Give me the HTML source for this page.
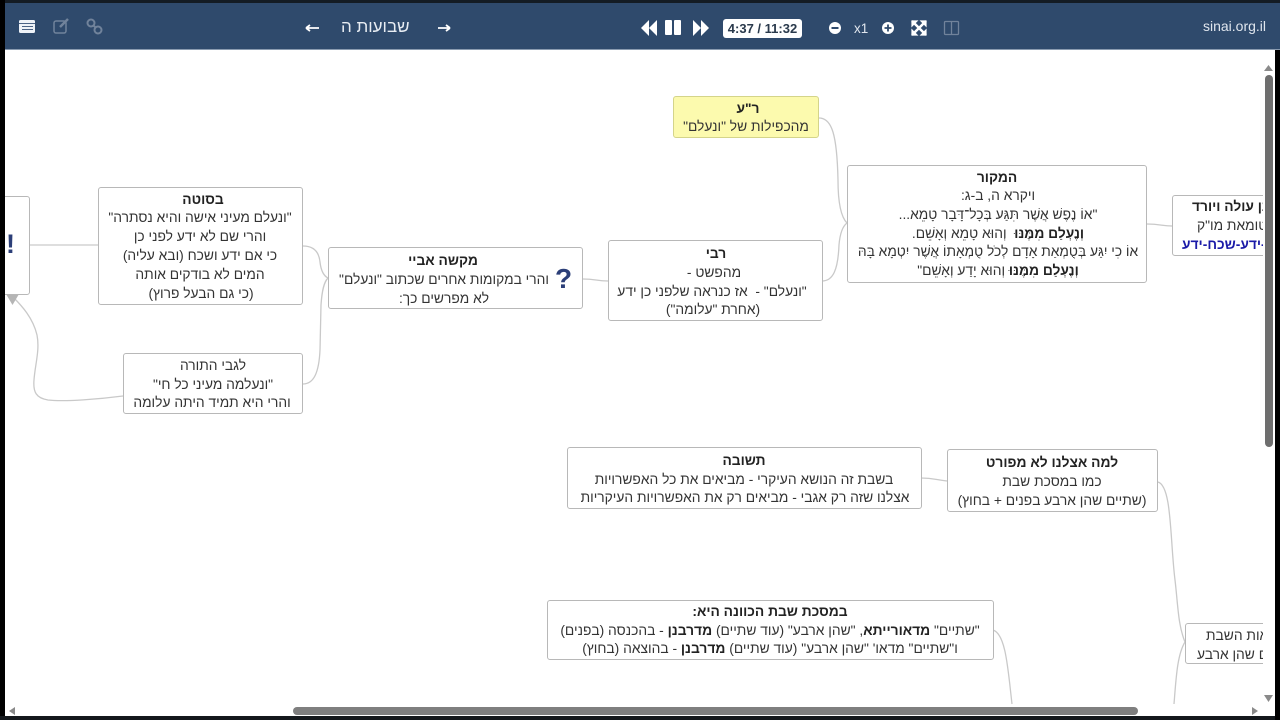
<!DOCTYPE html>
<html lang="he">
<head>
<meta charset="utf-8">
<style>
html,body{margin:0;padding:0;width:1280px;height:720px;overflow:hidden;background:#000;}
body{position:relative;font-family:"Liberation Sans","Noto Sans CJK JP",sans-serif;color:#2a2a2a;}
#page{position:absolute;left:5px;top:50px;width:1270px;height:666px;background:#fff;}
#bar{position:absolute;left:5px;top:3px;width:1275px;height:46px;background:#2f4a6c;border-bottom:1px solid #8a9bb0;}
#top{position:absolute;left:0;top:0;width:1280px;height:3px;background:#141c24;}
.n{position:absolute;box-sizing:border-box;border:1px solid #b8b8b8;border-radius:3px;background:#fff;}
.y{background:#fcfaae;border-color:#d4d48a;}
.l{position:absolute;white-space:nowrap;transform:translateX(-50%);direction:rtl;font-size:13.8px;line-height:18px;text-align:center;color:#333;filter:blur(.25px);}
.l b{color:#222;}
.r{position:absolute;white-space:nowrap;direction:rtl;font-size:13.8px;line-height:18px;color:#333;filter:blur(.25px);}
.r b{color:#222;}
.t{position:absolute;white-space:nowrap;color:#fff;}
svg{position:absolute;left:0;top:0;}
.clip{position:absolute;overflow:hidden;}
</style>
</head>
<body>
<div id="top"></div>
<div id="bar"></div>
<div id="page"></div>

<svg width="1280" height="720" viewBox="0 0 1280 720" fill="none">
  <g stroke="#c9c9c9" stroke-width="1.3">
    <path d="M30 245H98"/>
    <path d="M303 246C314 246 319 252 320 262C321 271 324 276 328 278"/>
    <path d="M303 384C314 384 319 372 320 350L321 305C322 290 324 282 328 278"/>
    <path d="M123 396C100 399 65 402 48 400C36 398 33 392 34 380C35 365 40 350 37 335C33 318 22 306 13 297"/>
    <path d="M583 279C596 279 596 281 608 281"/>
    <path d="M819 118C832 118 837 135 838 180C838 205 842 218 847 223"/>
    <path d="M822 281C833 281 838 270 839 245C840 233 843 226 847 223"/>
    <path d="M1147 224C1160 224 1162 226 1172 226"/>
    <path d="M921 478C934 478 936 480 947 481"/>
    <path d="M1158 482C1172 486 1170 540 1175 580C1178 605 1178 625 1185 642"/>
    <path d="M1185 642C1177 655 1176 680 1174 704"/>
    <path d="M993 630C1006 634 1008 670 1012 704"/>
  </g>
  <path d="M6 294H19L12.500 305Z" fill="#b5b5b5"/>
</svg>

<!-- left clipped node -->
<div class="n" style="left:-20px;top:196px;width:50px;height:99px;"></div>
<div style="position:absolute;left:0;top:0;width:5px;height:720px;background:#000;"></div>
<div class="t" style="left:6px;top:229px;font-size:27px;font-weight:bold;color:#2c3f78;line-height:30px;">!</div>

<!-- בסוטה -->
<div class="n" style="left:98px;top:187px;width:205px;height:118px;"></div>
<div class="l" style="left:203px;top:191px;"><b>בסוטה</b></div>
<div class="l" style="left:200px;top:209px;">"ונעלם מעיני אישה והיא נסתרה"</div>
<div class="l" style="left:200px;top:228px;">והרי שם לא ידע לפני כן</div>
<div class="l" style="left:200px;top:247px;">כי אם ידע ושכח (ובא עליה)</div>
<div class="l" style="left:200px;top:266px;">המים לא בודקים אותה</div>
<div class="l" style="left:201px;top:285px;">(כי גם הבעל פרוץ)</div>

<!-- לגבי התורה -->
<div class="n" style="left:123px;top:353px;width:180px;height:61px;"></div>
<div class="l" style="left:213px;top:357px;">לגבי התורה</div>
<div class="l" style="left:213px;top:376px;">"ונעלמה מעיני כל חי"</div>
<div class="l" style="left:212px;top:394px;">והרי היא תמיד היתה עלומה</div>

<!-- מקשה אביי -->
<div class="n" style="left:328px;top:247px;width:255px;height:62px;"></div>
<div class="l" style="left:443px;top:252px;"><b>מקשה אביי</b></div>
<div class="l" style="left:444px;top:271px;">והרי במקומות אחרים שכתוב "ונעלם"</div>
<div class="l" style="left:444px;top:290px;">לא מפרשים כך:</div>
<div class="t" style="left:555px;top:264px;font-size:28px;line-height:30px;font-weight:bold;color:#2c3f78;">?</div>

<!-- רבי -->
<div class="n" style="left:608px;top:240px;width:215px;height:81px;"></div>
<div class="l" style="left:716px;top:245px;"><b>רבי</b></div>
<div class="l" style="left:714px;top:264px;">מהפשט -</div>
<div class="l" style="left:712px;top:283px;">"ונעלם" -&nbsp; אז כנראה שלפני כן ידע</div>
<div class="l" style="left:713px;top:301px;">(אחרת "עלומה")</div>

<!-- ר"ע -->
<div class="n y" style="left:673px;top:96px;width:146px;height:42px;"></div>
<div class="l" style="left:748px;top:100px;"><b>ר"ע</b></div>
<div class="l" style="left:746px;top:118px;">מהכפילות של "ונעלם"</div>

<!-- המקור -->
<div class="n" style="left:847px;top:165px;width:300px;height:118px;"></div>
<div class="l" style="left:997px;top:169px;"><b>המקור</b></div>
<div class="l" style="left:998px;top:187px;">ויקרא ה, ב-ג:</div>
<div class="l" style="left:998px;top:206px;">"אוֹ נֶפֶשׁ אֲשֶׁר תִּגַּע בְּכָל־דָּבָר טָמֵא...</div>
<div class="l" style="left:998px;top:225px;"><b>וְנֶעְלַם מִמֶּנּוּ</b>&nbsp; וְהוּא טָמֵא וְאָשֵׁם.</div>
<div class="l" style="left:998px;top:243px;">אוֹ כִי יִגַּע בְּטֻמְאַת אָדָם לְכֹל טֻמְאָתוֹ אֲשֶׁר יִטְמָא בָּהּ</div>
<div class="l" style="left:998px;top:262px;"><b>וְנֶעְלַם מִמֶּנּוּ</b> וְהוּא יָדַע וְאָשֵׁם"</div>

<!-- right clipped 1 -->
<div class="clip" style="left:1160px;top:190px;width:103px;height:70px;">
  <div class="n" style="left:12px;top:5px;width:140px;height:61px;"></div>
  <div class="r" style="left:32px;top:8px;"><b>קרבן עולה ויורד</b></div>
  <div class="r" style="left:37px;top:27px;">טומאת מו"ק</div>
  <div class="r" style="left:22px;top:46px;color:#1a1aa8;"><b style="color:#1a1aa8;">לא-ידע-שכח-ידע</b></div>
</div>

<!-- תשובה -->
<div class="n" style="left:567px;top:447px;width:355px;height:62px;"></div>
<div class="l" style="left:744px;top:452px;"><b>תשובה</b></div>
<div class="l" style="left:744px;top:471px;">בשבת זה הנושא העיקרי - מביאים את כל האפשרויות</div>
<div class="l" style="left:745px;top:489px;">אצלנו שזה רק אגבי - מביאים רק את האפשרויות העיקריות</div>

<!-- למה אצלנו -->
<div class="n" style="left:947px;top:449px;width:211px;height:63px;"></div>
<div class="l" style="left:1052px;top:454px;"><b>למה אצלנו לא מפורט</b></div>
<div class="l" style="left:1052px;top:473px;">כמו במסכת שבת</div>
<div class="l" style="left:1052px;top:492px;">(שתיים שהן ארבע בפנים + בחוץ)</div>

<!-- במסכת שבת -->
<div class="n" style="left:547px;top:600px;width:447px;height:60px;"></div>
<div class="l" style="left:770px;top:603px;"><b>במסכת שבת הכוונה היא:</b></div>
<div class="l" style="left:770px;top:622px;">"שתיים" <b>מדאורייתא</b>, "שהן ארבע" (עוד שתיים) <b>מדרבנן</b> - בהכנסה (בפנים)</div>
<div class="l" style="left:770px;top:640px;">ו"שתיים" מדאו' "שהן ארבע" (עוד שתיים) <b>מדרבנן</b> - בהוצאה (בחוץ)</div>

<!-- right clipped 2 -->
<div class="clip" style="left:1180px;top:620px;width:83px;height:48px;">
  <div class="n" style="left:5px;top:3px;width:120px;height:41px;"></div>
  <div class="r" style="left:26px;top:7px;">יציאות השבת</div>
  <div class="r" style="left:17px;top:26px;">שתיים שהן ארבע</div>
</div>

<!-- scrollbars -->
<div style="position:absolute;left:1265px;top:75px;width:8px;height:372px;background:#6e6e6e;border-radius:4px;"></div>
<svg width="1280" height="720" viewBox="0 0 1280 720">
  <path d="M1264 71L1268.500 65L1273 71Z" fill="#8a8a8a"/>
  <path d="M1264 695L1268.500 702L1273 695Z" fill="#8a8a8a"/>
  <path d="M9 711L15 707V715Z" fill="#8a8a8a"/>
  <path d="M1252 707L1258 711L1252 715Z" fill="#8a8a8a"/>
</svg>
<div style="position:absolute;left:293px;top:707px;width:845px;height:8px;background:#7f7f7f;border-radius:4px;"></div>
<div style="position:absolute;left:0;top:716px;width:1280px;height:4px;background:#14181c;"></div>
<div style="position:absolute;left:1275px;top:50px;width:5px;height:670px;background:#000;"></div>

<!-- toolbar -->
<svg width="1280" height="50" viewBox="0 0 1280 50" fill="none">
  <rect x="19" y="20" width="16" height="13" rx="1.500" fill="#eef2f7"/>
  <path d="M19 23.500H35M22 26.500H33M22 29.500H33" stroke="#4b6385" stroke-width="1"/>
  <rect x="54" y="21" width="12" height="12" rx="2" stroke="#71839b" stroke-width="1.500"/>
  <path d="M60 27L68 19" stroke="#71839b" stroke-width="2.500"/>
  <circle cx="91" cy="23" r="3.500" stroke="#71839b" stroke-width="2"/>
  <circle cx="98" cy="30" r="3.500" stroke="#71839b" stroke-width="2"/>
  <path d="M93 25L96 28" stroke="#71839b" stroke-width="2"/>
  <path d="M641 28L649 20V36ZM649 28L657 20V36Z" fill="#fff"/>
  <rect x="665" y="20" width="7" height="15" rx="1" fill="#fff"/>
  <rect x="674" y="20" width="7" height="15" rx="1" fill="#fff"/>
  <path d="M693 20L701 28L693 36ZM701 20L709 28L701 36Z" fill="#fff"/>
  <circle cx="835" cy="28" r="6" fill="#fff"/>
  <rect x="831.500" y="27" width="7" height="2" fill="#2f4a6c"/>
  <circle cx="888" cy="28" r="6" fill="#fff"/>
  <path d="M884.500 28H891.500M888 24.500V31.500" stroke="#2f4a6c" stroke-width="1.800"/>
  <path d="M912 21L926 35M926 21L912 35" stroke="#fff" stroke-width="2.500"/>
  <path d="M912 21H917L912 26ZM926 21H921L926 26ZM912 35H917L912 30ZM926 35H921L926 30Z" fill="#fff" stroke="#fff" stroke-width="1.200"/>
  <rect x="944.500" y="21.500" width="14" height="13" rx="1" stroke="#71839b" stroke-width="1.300"/>
  <path d="M951.500 21.500V34.500" stroke="#71839b" stroke-width="1.300"/>
  <path d="M306 28H319M306 28L310 25M306 28L310 31" stroke="#fff" stroke-width="1.800"/>
  <path d="M438 28H450M450 28L446 25M450 28L446 31" stroke="#fff" stroke-width="1.800"/>
</svg>
<div class="t" style="left:341px;top:17px;font-size:17px;line-height:20px;direction:rtl;color:#e8edf3;">שבועות ה</div>
<div style="position:absolute;left:723px;top:19px;width:79px;height:19px;background:#fff;border-radius:3px;text-align:center;font-size:13px;line-height:19px;font-weight:bold;color:#2a3a4c;white-space:nowrap;">4:37 / 11:32</div>
<div class="t" style="left:854px;top:20px;font-size:13.500px;line-height:17px;color:#e0e6ee;">x1</div>
<div class="t" style="left:1203px;top:18px;font-size:14px;line-height:17px;color:#e0e6ee;">sinai.org.il</div>
</body>
</html>
